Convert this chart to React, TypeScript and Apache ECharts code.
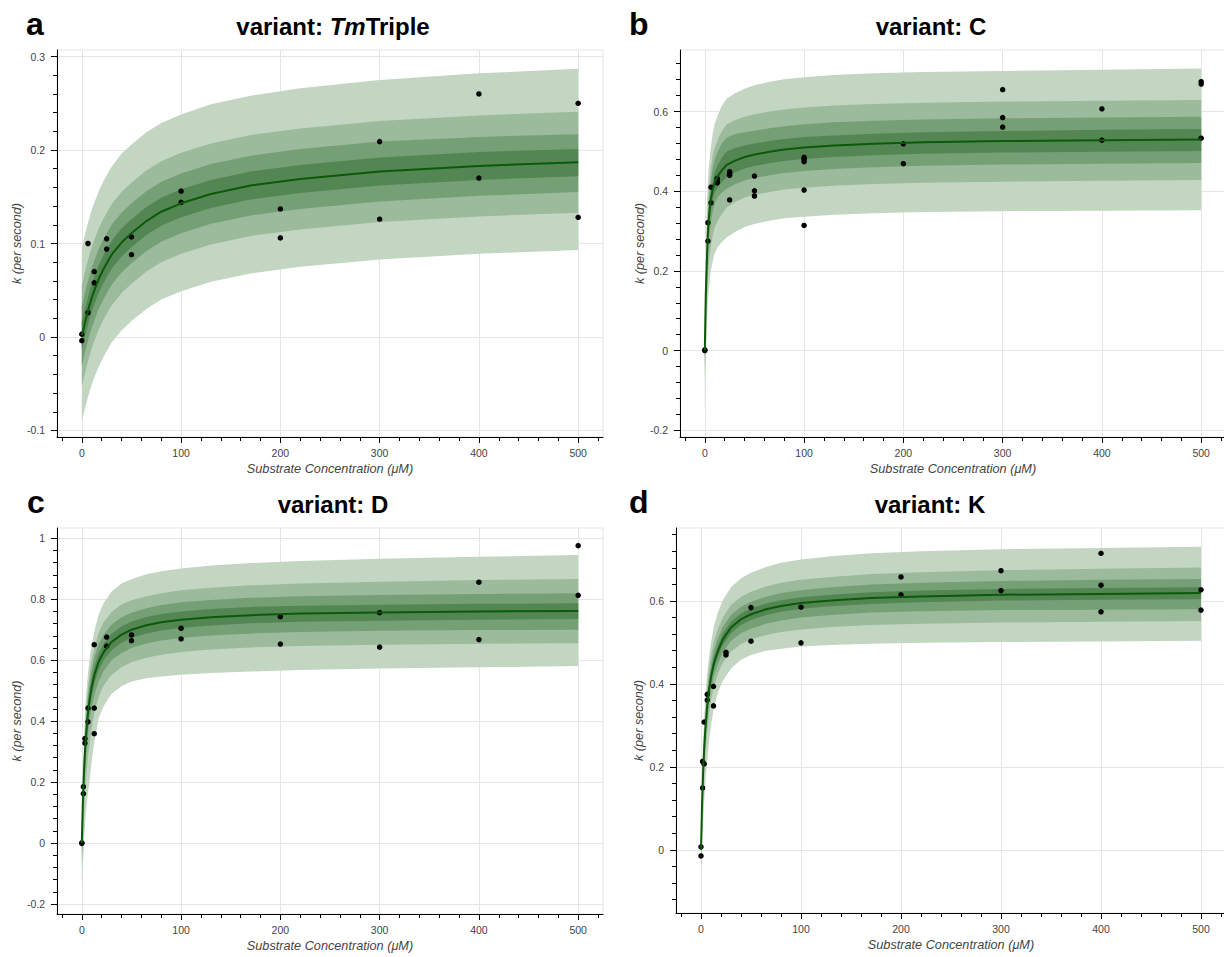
import React, { useEffect, useRef } from 'react';
import * as echarts from 'echarts';

const FONT = '"Liberation Sans", Arial, Helvetica, sans-serif';

// shared x positions at which the posterior bands / median curve were read
const bandX = [0, 1, 2, 3, 4, 6, 8, 10, 13, 17, 22, 30, 40, 50, 65, 80, 100, 130, 170, 220, 300, 400, 500];

// ---------- panel a: TmTriple ----------
const aMed = [0.002, 0.005, 0.01, 0.0146, 0.019, 0.027, 0.035, 0.042, 0.051, 0.062, 0.073, 0.088, 0.101, 0.111, 0.124, 0.134, 0.143, 0.153, 0.162, 0.169, 0.177, 0.183, 0.187];
const aOuterHi = [0.095, 0.099, 0.104, 0.109, 0.113, 0.121, 0.129, 0.136, 0.145, 0.156, 0.167, 0.182, 0.196, 0.206, 0.219, 0.229, 0.238, 0.249, 0.258, 0.266, 0.275, 0.282, 0.287];
const aOuterLo = [-0.09, -0.086, -0.082, -0.077, -0.073, -0.065, -0.058, -0.051, -0.042, -0.032, -0.021, -0.006, 0.007, 0.017, 0.03, 0.04, 0.049, 0.059, 0.068, 0.075, 0.083, 0.089, 0.093];
const aSecHi = [0.056, 0.059, 0.064, 0.069, 0.073, 0.081, 0.089, 0.096, 0.105, 0.116, 0.127, 0.142, 0.155, 0.165, 0.178, 0.188, 0.197, 0.207, 0.216, 0.223, 0.231, 0.237, 0.241];
const aSecLo = [-0.052, -0.049, -0.044, -0.039, -0.035, -0.027, -0.019, -0.012, -0.003, 0.008, 0.019, 0.034, 0.047, 0.057, 0.07, 0.08, 0.089, 0.099, 0.108, 0.115, 0.123, 0.129, 0.133];
const aThrHi = [0.034, 0.037, 0.042, 0.047, 0.051, 0.059, 0.067, 0.074, 0.083, 0.094, 0.105, 0.12, 0.133, 0.143, 0.156, 0.166, 0.175, 0.185, 0.194, 0.201, 0.209, 0.214, 0.217];
const aThrLo = [-0.03, -0.027, -0.022, -0.017, -0.013, -0.005, 0.003, 0.01, 0.019, 0.03, 0.041, 0.056, 0.069, 0.079, 0.092, 0.102, 0.111, 0.121, 0.13, 0.137, 0.145, 0.151, 0.155];
const aInnHi = [0.017, 0.02, 0.025, 0.03, 0.034, 0.042, 0.05, 0.057, 0.066, 0.077, 0.088, 0.103, 0.116, 0.126, 0.139, 0.149, 0.158, 0.168, 0.177, 0.184, 0.192, 0.198, 0.201];
const aInnLo = [-0.013, -0.01, -0.005, 0, 0.004, 0.012, 0.02, 0.027, 0.036, 0.047, 0.058, 0.073, 0.086, 0.096, 0.109, 0.119, 0.128, 0.138, 0.147, 0.154, 0.162, 0.168, 0.172];
const aConc = [0, 0, 6.25, 6.25, 12.5, 12.5, 25, 25, 50, 50, 100, 100, 200, 200, 300, 300, 400, 400, 500, 500];
const aK = [0.003, -0.004, 0.1, 0.026, 0.07, 0.058, 0.105, 0.094, 0.107, 0.088, 0.156, 0.144, 0.137, 0.106, 0.209, 0.126, 0.26, 0.17, 0.25, 0.128];

// ---------- panel b: C ----------
const bMed = [0, 0.14, 0.22, 0.29, 0.33, 0.38, 0.405, 0.423, 0.438, 0.452, 0.466, 0.476, 0.486, 0.492, 0.499, 0.505, 0.51, 0.515, 0.519, 0.523, 0.526, 0.528, 0.53];
const bOuterHi = [0.15, 0.27, 0.36, 0.42, 0.46, 0.51, 0.545, 0.57, 0.59, 0.614, 0.632, 0.645, 0.657, 0.666, 0.675, 0.681, 0.686, 0.692, 0.696, 0.699, 0.702, 0.705, 0.708];
const bOuterLo = [-0.16, -0.02, 0.06, 0.12, 0.15, 0.2, 0.225, 0.245, 0.26, 0.272, 0.284, 0.297, 0.31, 0.318, 0.326, 0.332, 0.336, 0.341, 0.345, 0.348, 0.35, 0.351, 0.352];
const bSecHi = [0.08, 0.2, 0.29, 0.36, 0.4, 0.455, 0.49, 0.51, 0.53, 0.55, 0.568, 0.578, 0.587, 0.593, 0.6, 0.605, 0.61, 0.615, 0.619, 0.622, 0.625, 0.627, 0.629];
const bSecLo = [-0.08, 0.05, 0.12, 0.18, 0.22, 0.26, 0.29, 0.31, 0.325, 0.342, 0.359, 0.372, 0.384, 0.391, 0.398, 0.404, 0.409, 0.414, 0.418, 0.421, 0.424, 0.426, 0.428];
const bThrHi = [0.045, 0.18, 0.26, 0.33, 0.37, 0.425, 0.458, 0.48, 0.5, 0.52, 0.535, 0.543, 0.548, 0.552, 0.558, 0.563, 0.568, 0.573, 0.577, 0.58, 0.583, 0.585, 0.587];
const bThrLo = [-0.045, 0.09, 0.17, 0.24, 0.28, 0.32, 0.35, 0.37, 0.385, 0.396, 0.406, 0.417, 0.427, 0.433, 0.44, 0.446, 0.451, 0.456, 0.46, 0.464, 0.467, 0.469, 0.471];
const bInnHi = [0.02, 0.155, 0.238, 0.31, 0.35, 0.4, 0.428, 0.448, 0.465, 0.484, 0.5, 0.508, 0.515, 0.52, 0.526, 0.531, 0.536, 0.54, 0.544, 0.548, 0.551, 0.554, 0.556];
const bInnLo = [-0.02, 0.12, 0.2, 0.265, 0.305, 0.355, 0.38, 0.397, 0.41, 0.422, 0.436, 0.447, 0.457, 0.463, 0.47, 0.476, 0.481, 0.486, 0.49, 0.494, 0.497, 0.499, 0.501];
const bConc = [0, 0, 3.125, 3.125, 6.25, 6.25, 12.5, 12.5, 12.5, 25, 25, 25, 25, 50, 50, 50, 100, 100, 100, 100, 100, 200, 200, 300, 300, 300, 400, 400, 500, 500, 500];
const bK = [0.002, 0, 0.321, 0.275, 0.41, 0.371, 0.432, 0.426, 0.421, 0.449, 0.445, 0.44, 0.378, 0.438, 0.401, 0.388, 0.485, 0.48, 0.474, 0.403, 0.314, 0.519, 0.469, 0.655, 0.585, 0.561, 0.607, 0.528, 0.675, 0.669, 0.533];

// ---------- panel c: D ----------
const cMed = [0, 0.128, 0.22, 0.289, 0.342, 0.42, 0.474, 0.513, 0.556, 0.595, 0.627, 0.66, 0.684, 0.7, 0.715, 0.725, 0.733, 0.741, 0.748, 0.753, 0.757, 0.76, 0.762];
const cOuterHi = [0.1, 0.22, 0.33, 0.41, 0.47, 0.55, 0.61, 0.65, 0.7, 0.75, 0.788, 0.826, 0.852, 0.866, 0.882, 0.892, 0.901, 0.911, 0.919, 0.926, 0.933, 0.94, 0.945];
const cOuterLo = [-0.15, -0.08, -0.01, 0.05, 0.1, 0.16, 0.21, 0.27, 0.34, 0.41, 0.45, 0.49, 0.515, 0.53, 0.541, 0.547, 0.552, 0.558, 0.563, 0.568, 0.573, 0.577, 0.581];
const cSecHi = [0.06, 0.17, 0.28, 0.36, 0.42, 0.5, 0.56, 0.6, 0.645, 0.69, 0.725, 0.758, 0.783, 0.797, 0.81, 0.82, 0.83, 0.838, 0.846, 0.852, 0.858, 0.863, 0.867];
const cSecLo = [-0.08, -0.01, 0.07, 0.15, 0.2, 0.28, 0.33, 0.38, 0.435, 0.48, 0.517, 0.552, 0.577, 0.593, 0.608, 0.618, 0.627, 0.635, 0.642, 0.647, 0.651, 0.654, 0.656];
const cThrHi = [0.035, 0.16, 0.26, 0.34, 0.4, 0.475, 0.53, 0.57, 0.613, 0.652, 0.685, 0.717, 0.741, 0.756, 0.771, 0.781, 0.79, 0.798, 0.805, 0.81, 0.814, 0.817, 0.82];
const cThrLo = [-0.04, 0.06, 0.15, 0.22, 0.27, 0.35, 0.41, 0.45, 0.49, 0.53, 0.565, 0.6, 0.624, 0.64, 0.655, 0.665, 0.673, 0.681, 0.688, 0.693, 0.697, 0.699, 0.7];
const cInnHi = [0.015, 0.145, 0.24, 0.31, 0.365, 0.445, 0.5, 0.54, 0.583, 0.622, 0.654, 0.687, 0.711, 0.727, 0.742, 0.752, 0.76, 0.768, 0.775, 0.779, 0.782, 0.785, 0.787];
const cInnLo = [-0.015, 0.11, 0.2, 0.265, 0.318, 0.395, 0.448, 0.487, 0.53, 0.568, 0.6, 0.633, 0.657, 0.673, 0.688, 0.698, 0.706, 0.714, 0.721, 0.726, 0.73, 0.733, 0.735];
const cConc = [0, 0, 1.5625, 1.5625, 3.125, 3.125, 6.25, 6.25, 12.5, 12.5, 12.5, 25, 25, 50, 50, 100, 100, 200, 200, 300, 300, 400, 400, 500, 500];
const cK = [0.001, -0.001, 0.185, 0.162, 0.343, 0.328, 0.443, 0.398, 0.651, 0.443, 0.359, 0.676, 0.646, 0.683, 0.664, 0.705, 0.67, 0.743, 0.653, 0.756, 0.643, 0.856, 0.668, 0.976, 0.813];

// ---------- panel d: K ----------
const dMed = [0, 0.104, 0.179, 0.234, 0.278, 0.341, 0.385, 0.417, 0.451, 0.48, 0.508, 0.536, 0.556, 0.568, 0.58, 0.588, 0.595, 0.601, 0.607, 0.611, 0.615, 0.617, 0.619];
const dOuterHi = [0.07, 0.17, 0.25, 0.31, 0.355, 0.42, 0.465, 0.5, 0.54, 0.573, 0.603, 0.633, 0.655, 0.668, 0.682, 0.692, 0.7, 0.708, 0.715, 0.72, 0.725, 0.728, 0.731];
const dOuterLo = [-0.07, 0.0, 0.06, 0.11, 0.15, 0.21, 0.26, 0.3, 0.345, 0.38, 0.408, 0.437, 0.458, 0.47, 0.48, 0.485, 0.49, 0.494, 0.497, 0.499, 0.501, 0.502, 0.504];
const dSecHi = [0.04, 0.145, 0.225, 0.28, 0.325, 0.39, 0.435, 0.468, 0.503, 0.533, 0.561, 0.59, 0.61, 0.622, 0.635, 0.644, 0.651, 0.658, 0.665, 0.669, 0.674, 0.678, 0.681];
const dSecLo = [-0.04, 0.055, 0.12, 0.175, 0.22, 0.28, 0.325, 0.36, 0.395, 0.425, 0.452, 0.478, 0.496, 0.507, 0.518, 0.525, 0.531, 0.537, 0.542, 0.545, 0.548, 0.55, 0.552];
const dThrHi = [0.025, 0.13, 0.205, 0.26, 0.305, 0.37, 0.413, 0.446, 0.481, 0.51, 0.538, 0.566, 0.586, 0.598, 0.61, 0.619, 0.626, 0.633, 0.64, 0.644, 0.648, 0.651, 0.653];
const dThrLo = [-0.025, 0.075, 0.15, 0.205, 0.25, 0.31, 0.355, 0.387, 0.42, 0.449, 0.477, 0.504, 0.522, 0.533, 0.545, 0.553, 0.56, 0.566, 0.572, 0.575, 0.578, 0.579, 0.58];
const dInnHi = [0.01, 0.115, 0.19, 0.246, 0.29, 0.353, 0.397, 0.43, 0.465, 0.494, 0.522, 0.55, 0.57, 0.582, 0.594, 0.602, 0.609, 0.615, 0.621, 0.625, 0.629, 0.631, 0.633];
const dInnLo = [-0.01, 0.093, 0.168, 0.222, 0.266, 0.329, 0.373, 0.404, 0.437, 0.466, 0.494, 0.522, 0.542, 0.554, 0.566, 0.574, 0.581, 0.587, 0.593, 0.597, 0.601, 0.603, 0.604];
const dConc = [0, 0, 1.5625, 1.5625, 3.125, 3.125, 6.25, 6.25, 12.5, 12.5, 25, 25, 50, 50, 100, 100, 200, 200, 300, 300, 400, 400, 400, 500, 500];
const dK = [0.007, -0.015, 0.213, 0.149, 0.207, 0.308, 0.375, 0.361, 0.394, 0.347, 0.476, 0.47, 0.584, 0.503, 0.585, 0.499, 0.658, 0.615, 0.673, 0.625, 0.715, 0.638, 0.574, 0.627, 0.578];

// ---------- tick labels ----------
const xMajor = [0, 100, 200, 300, 400, 500];
const aYMajor = [-0.1, 0, 0.1, 0.2, 0.3];
const bYMajor = [-0.2, 0, 0.2, 0.4, 0.6];
const cYMajor = [-0.2, 0, 0.2, 0.4, 0.6, 0.8, 1];
const dYMajor = [0, 0.2, 0.4, 0.6];

const BAND_COLORS = ['#c2d6c2', '#9cba9c', '#75a075', '#548654'];
const LINE_COLOR = '#0b5a0b';

function minorTicks(lo: number, hi: number, step: number, majors: number[]) {
  const out: number[] = [];
  const n = Math.round((hi - lo) / step);
  for (let i = 0; i <= n; i++) {
    const v = Math.round((lo + i * step) * 1000) / 1000;
    if (!majors.some((m) => Math.abs(m - v) < 1e-9)) out.push(v);
  }
  return out;
}

const panels = [
  {
    grid: { left: 57, top: 50, width: 546, height: 387 },
    yMin: -0.107, yMax: 0.307, yMajor: aYMajor, yMinor: minorTicks(-0.1, 0.3, 0.02, aYMajor),
    med: aMed, bands: [[aOuterLo, aOuterHi], [aSecLo, aSecHi], [aThrLo, aThrHi], [aInnLo, aInnHi]],
    conc: aConc, k: aK,
    title: '{b|variant: }{i|Tm}{b|Triple}', titleX: 333, titleY: 26.5, letter: 'a', letterX: 26, letterY: 24,
  },
  {
    grid: { left: 680, top: 50, width: 546, height: 387 },
    yMin: -0.217, yMax: 0.7545, yMajor: bYMajor, yMinor: minorTicks(-0.2, 0.72, 0.04, bYMajor),
    med: bMed, bands: [[bOuterLo, bOuterHi], [bSecLo, bSecHi], [bThrLo, bThrHi], [bInnLo, bInnHi]],
    conc: bConc, k: bK,
    title: '{b|variant: C}', titleX: 931, titleY: 26.5, letter: 'b', letterX: 629, letterY: 24,
  },
  {
    grid: { left: 57, top: 528, width: 546, height: 386 },
    yMin: -0.2328, yMax: 1.034, yMajor: cYMajor, yMinor: minorTicks(-0.2, 1.0, 0.04, cYMajor),
    med: cMed, bands: [[cOuterLo, cOuterHi], [cSecLo, cSecHi], [cThrLo, cThrHi], [cInnLo, cInnHi]],
    conc: cConc, k: cK,
    title: '{b|variant: D}', titleX: 333, titleY: 504.5, letter: 'c', letterX: 27, letterY: 502,
  },
  {
    grid: { left: 676, top: 528, width: 550, height: 385 },
    yMin: -0.1525, yMax: 0.776, yMajor: dYMajor, yMinor: minorTicks(-0.12, 0.76, 0.04, dYMajor),
    med: dMed, bands: [[dOuterLo, dOuterHi], [dSecLo, dSecHi], [dThrLo, dThrHi], [dInnLo, dInnHi]],
    conc: dConc, k: dK,
    title: '{b|variant: K}', titleX: 930, titleY: 504.5, letter: 'd', letterX: 629, letterY: 502,
  },
];

const xMinor = minorTicks(-20, 520, 20, xMajor);

function buildOption() {
  const grids: any[] = [];
  const xAxes: any[] = [];
  const yAxes: any[] = [];
  const series: any[] = [];
  const graphic: any[] = [];

  panels.forEach((p, i) => {
    grids.push({
      ...p.grid,
      show: true,
      borderColor: '#e5e5e5',
      borderWidth: 1,
      backgroundColor: 'transparent',
      containLabel: false,
      outerBoundsMode: 'none',
    });
    const labelStyle = { color: '#444', fontSize: 10.5, fontFamily: FONT };
    const nameStyle = { color: '#444', fontSize: 12.7, fontStyle: 'italic', fontFamily: FONT };
    xAxes.push({
      type: 'value', gridIndex: i, min: -25, max: 525, position: 'bottom',
      axisLine: { show: true, onZero: false, lineStyle: { color: '#000', width: 1 } },
      axisTick: { show: true, customValues: xMajor, length: 6, lineStyle: { color: '#000', width: 1 } },
      axisLabel: { show: true, customValues: xMajor, margin: 10, ...labelStyle, formatter: (v: number) => String(v) },
      splitLine: { show: true, lineStyle: { color: '#e5e5e5', width: 1 } },
      minorTick: { show: false },
      name: 'Substrate Concentration (μM)', nameLocation: 'middle', nameGap: 25, nameTextStyle: nameStyle,
    });
    xAxes.push({
      type: 'value', gridIndex: i, min: -25, max: 525, position: 'bottom',
      axisLine: { show: false, onZero: false },
      axisTick: { show: true, customValues: xMinor, length: 4, lineStyle: { color: '#000', width: 1 } },
      axisLabel: { show: false },
      splitLine: { show: false },
    });
    yAxes.push({
      type: 'value', gridIndex: i, min: p.yMin, max: p.yMax, position: 'left',
      axisLine: { show: true, onZero: false, lineStyle: { color: '#000', width: 1 } },
      axisTick: { show: true, customValues: p.yMajor, length: 6, lineStyle: { color: '#000', width: 1 } },
      axisLabel: {
        show: true, customValues: p.yMajor, margin: 12, ...labelStyle,
        formatter: (v: number) => String(Math.round(v * 100) / 100),
      },
      splitLine: { show: true, lineStyle: { color: '#e5e5e5', width: 1 } },
      name: 'k (per second)', nameLocation: 'middle', nameGap: 25, nameRotate: 90, nameTextStyle: nameStyle,
    });
    yAxes.push({
      type: 'value', gridIndex: i, min: p.yMin, max: p.yMax, position: 'left',
      axisLine: { show: false, onZero: false },
      axisTick: { show: true, customValues: p.yMinor, length: 4, lineStyle: { color: '#000', width: 1 } },
      axisLabel: { show: false },
      splitLine: { show: false },
    });

    const xi = i * 2;
    const yi = i * 2;
    p.bands.forEach(([lo, hi], b) => {
      series.push({
        type: 'custom',
        xAxisIndex: xi,
        yAxisIndex: yi,
        silent: true,
        clip: true,
        data: bandX.map((x, j) => [x, lo[j], hi[j]]),
        encode: { x: 0, y: [1, 2] },
        renderItem: (params: any, api: any) => {
          if (params.dataIndex !== 0) return null;
          const pts: number[][] = [];
          for (let j = 0; j < bandX.length; j++) pts.push(api.coord([bandX[j], hi[j]]));
          for (let j = bandX.length - 1; j >= 0; j--) pts.push(api.coord([bandX[j], lo[j]]));
          return { type: 'polygon', shape: { points: pts }, style: { fill: BAND_COLORS[b], stroke: null } };
        },
      });
    });
    series.push({
      type: 'line',
      xAxisIndex: xi,
      yAxisIndex: yi,
      data: bandX.map((x, j) => [x, p.med[j]]),
      showSymbol: false,
      smooth: false,
      lineStyle: { color: LINE_COLOR, width: 2 },
      silent: true,
    });
    series.push({
      type: 'scatter',
      xAxisIndex: xi,
      yAxisIndex: yi,
      data: p.conc.map((c, j) => [c, p.k[j]]),
      symbol: 'circle',
      symbolSize: 5.5,
      itemStyle: { color: '#000', opacity: 1 },
      silent: true,
    });

    graphic.push({
      type: 'text',
      x: p.titleX,
      y: p.titleY,
      style: {
        text: p.title,
        align: 'center',
        verticalAlign: 'middle',
        rich: {
          b: { fontSize: 24, fontWeight: 'bold', fontFamily: FONT, fill: '#000' },
          i: { fontSize: 24, fontWeight: 'bold', fontStyle: 'italic', fontFamily: FONT, fill: '#000' },
        },
      },
    });
    graphic.push({
      type: 'text',
      x: p.letterX,
      y: p.letterY,
      style: {
        text: p.letter,
        align: 'left',
        verticalAlign: 'middle',
        fontSize: 32,
        fontWeight: 'bold',
        fontFamily: FONT,
        fill: '#000',
      },
    });
  });

  return {
    animation: false,
    backgroundColor: '#ffffff',
    textStyle: { fontFamily: FONT },
    grid: grids,
    xAxis: xAxes,
    yAxis: yAxes,
    series,
    graphic,
  };
}

export default function App() {
  const ref = useRef<HTMLDivElement>(null);
  useEffect(() => {
    if (!ref.current) return;
    const chart = echarts.init(ref.current, undefined, { renderer: 'svg' });
    chart.setOption(buildOption() as any);
    return () => chart.dispose();
  }, []);
  return (
    <div
      ref={ref}
      style={{ position: 'absolute', left: 0, top: 0, width: 1224, height: 957, background: '#fff' }}
    />
  );
}
